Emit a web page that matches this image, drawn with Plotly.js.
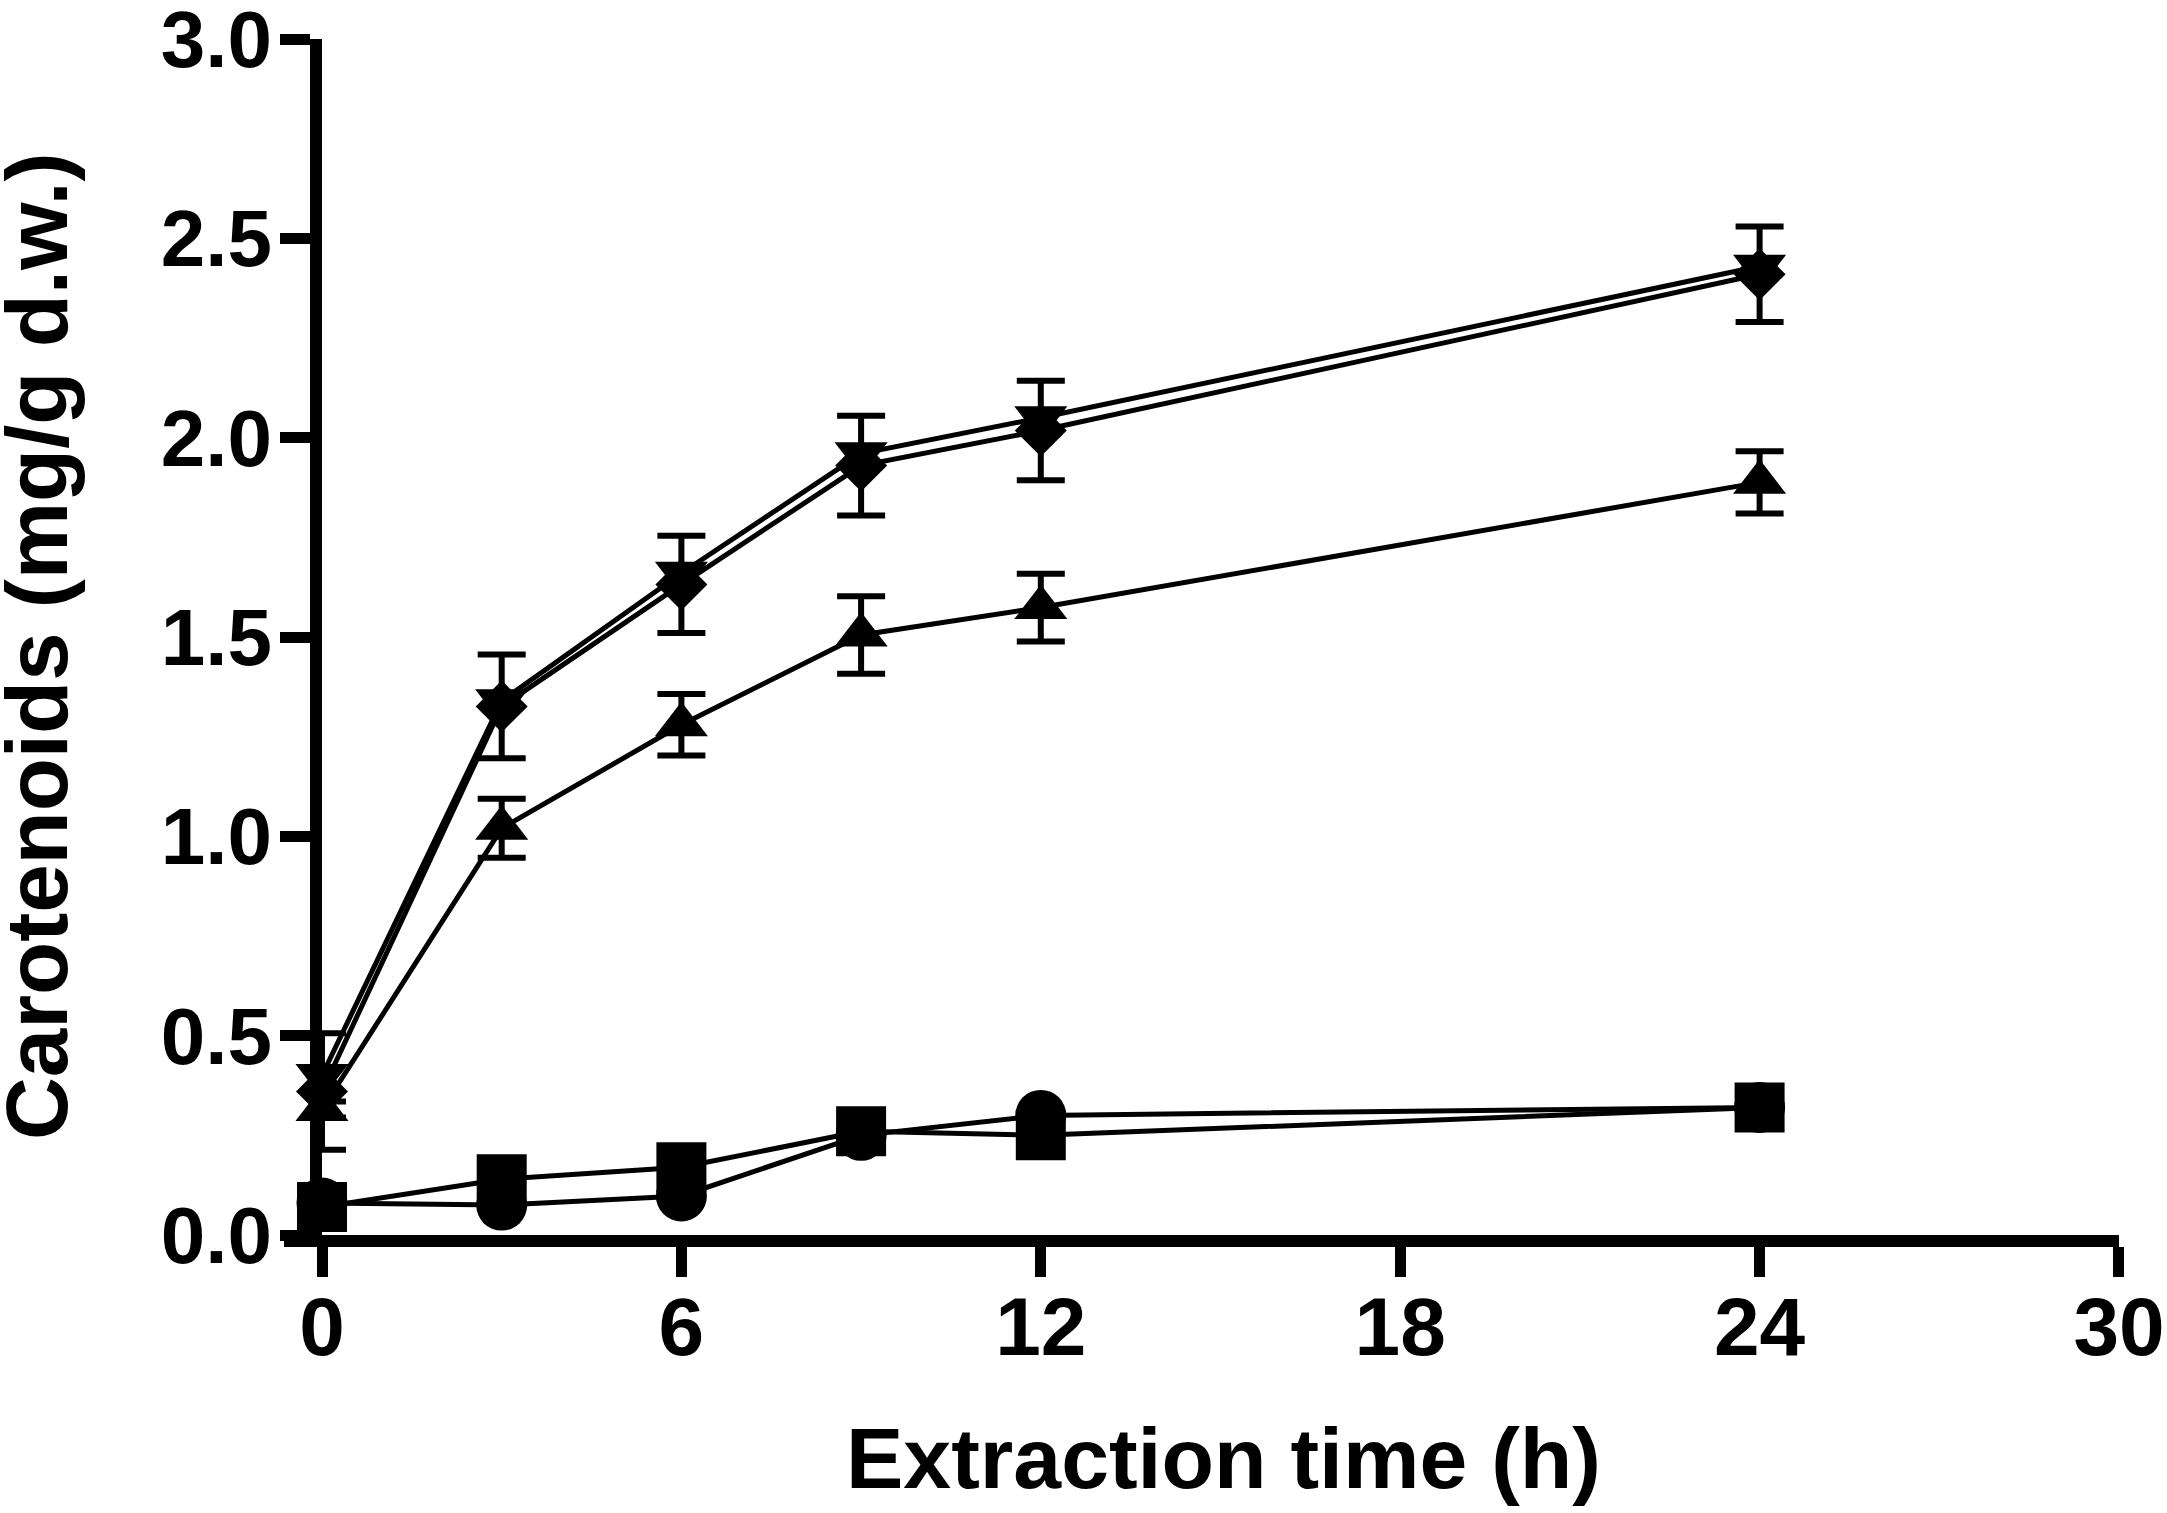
<!DOCTYPE html>
<html>
<head>
<meta charset="utf-8">
<script src="https://cdn.plot.ly/plotly-3.0.1.min.js"></script>
<style>
  body { margin: 0; background: #fff; }
  #chart { width: 2167px; height: 1513px; }
</style>
</head>
<body>
<div id="chart"></div>
<script>
// extraction times (h)
var hours = [0, 3, 6, 9, 12, 24];

// carotenoid content (mg/g d.w.)
var circleVals = [0.08, 0.075, 0.098, 0.25, 0.30, 0.32];
var squareVals = [0.07, 0.14, 0.17, 0.26, 0.25, 0.32];
var triUpVals = [0.315, 1.02, 1.28, 1.505, 1.574, 1.888];
var triUpErr = [0.02, 0.074, 0.077, 0.097, 0.085, 0.078];
var diamondVals = [0.36, 1.326, 1.632, 1.93, 2.018, 2.41];
var diamondErr = [0.146, 0.13, 0.122, 0.125, 0.125, 0.12];
var triDownVals = [0.40, 1.34, 1.66, 1.96, 2.05, 2.43];

var xTicks = [0, 6, 12, 18, 24, 30];
var yTicks = [0, 0.5, 1.0, 1.5, 2.0, 2.5, 3.0];

var FONT = 'Liberation Sans, Arial, sans-serif';

// Plot area in pixels
var L = 322, R = 48, T = 39, B = 278;
var W = 2167, H = 1513;
var plotW = W - L - R, plotH = H - T - B;

function series(y, symbol, size, err)
{
        var tr = {
                x: hours,
                y: y,
                mode: 'lines+markers',
                type: 'scatter',
                cliponaxis: false,
                line: {color: '#000', width: 5},
                marker: {symbol: symbol, size: size, color: '#000'}
        };
        if (err) {
                tr.error_y = {type: 'data', array: err, visible: true,
                        color: '#000', thickness: 6, width: 24};
        }
        return tr;
}

var data = [
        series(circleVals, 'circle', 51),
        series(squareVals, 'square', 50),
        series(triUpVals, 'triangle-up', 46, triUpErr),
        series(diamondVals, 'diamond', 40, diamondErr),
        series(triDownVals, 'triangle-down', 46)
];

var layout = {
        width: W,
        height: H,
        margin: {l: L, r: R, t: T, b: B, pad: 0},
        paper_bgcolor: '#fff',
        plot_bgcolor: '#fff',
        showlegend: false,
        font: {family: FONT, color: '#000'},
        xaxis: {
                range: [0, 30.0001],
                tickvals: xTicks,
                ticktext: xTicks.map(String),
                showgrid: false,
                zeroline: false,
                showline: true,
                linecolor: '#000',
                linewidth: 12,
                ticks: 'outside',
                ticklen: 30,
                tickwidth: 11,
                tickcolor: '#000',
                ticklabelstandoff: -20,
                ticklabeloverflow: 'allow',
                tickfont: {family: FONT, size: 82, weight: 'bold', color: '#000'}
        },
        yaxis: {
                range: [0, 3.0001],
                tickvals: yTicks,
                ticktext: yTicks.map(function (v) {return v.toFixed(1);}),
                showgrid: false,
                zeroline: false,
                showline: true,
                linecolor: '#000',
                linewidth: 12,
                ticks: 'outside',
                ticklen: 30,
                tickwidth: 11,
                tickcolor: '#000',
                ticklabelstandoff: -8,
                ticklabeloverflow: 'allow',
                tickfont: {family: FONT, size: 80, weight: 'bold', color: '#000'}
        },
        shapes: [{
                // GraphPad-style stub of the x axis reaching left to the y tick ends
                type: 'line', xref: 'paper', yref: 'paper',
                x0: (284 - L) / plotW, x1: 0,
                y0: -6 / plotH, y1: -6 / plotH,
                line: {color: '#000', width: 12}
        }],
        annotations: [{
                text: 'Extraction time (h)',
                xref: 'paper', yref: 'paper',
                x: (1223 - L) / plotW, y: -(1458 - (H - B)) / plotH,
                xanchor: 'center', yanchor: 'middle',
                showarrow: false,
                font: {family: FONT, size: 86, weight: 'bold', color: '#000'}
        }, {
                text: 'Carotenoids (mg/g d.w.)',
                xref: 'paper', yref: 'paper',
                x: (36 - L) / plotW, y: ((H - B) - 646) / plotH,
                xanchor: 'center', yanchor: 'middle',
                textangle: -90,
                showarrow: false,
                font: {family: FONT, size: 87, weight: 'bold', color: '#000'}
        }]
};

try {Plotly.newPlot('chart', data, layout, {displayModeBar: false, staticPlot: true});}
catch (err) {document.body.innerHTML = err;}
</script>
</body>
</html>
